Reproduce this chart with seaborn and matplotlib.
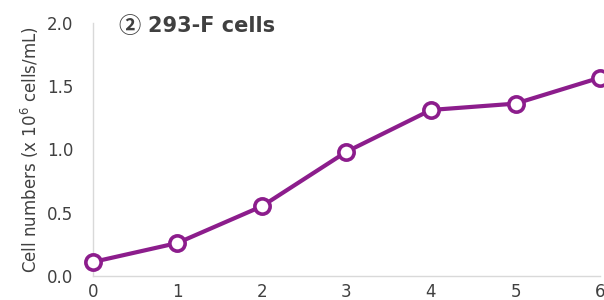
import pandas as pd
import seaborn as sns
import matplotlib.pyplot as plt
from matplotlib.ticker import MultipleLocator, FormatStrFormatter

days = [0, 1, 2, 3, 4, 5, 6]
cells = [0.11, 0.26, 0.55, 0.98, 1.31, 1.36, 1.565]

df = pd.DataFrame({"Day": days, "Cells": cells})

sns.set_style("white")
plt.rcParams['font.family'] = ['DejaVu Sans', 'Noto Sans CJK JP']

text_col = "#404040"
line_col = "#8C1D8C"

fig = plt.figure(figsize = (6.04, 3.0), dpi = 100)
ax = fig.add_axes([0.1535, 0.08, 0.84, 0.845])

sns.lineplot(x = "Day", y = "Cells", data = df, ax = ax, color = line_col, linewidth = 3,
             marker = "o", markersize = 11, markerfacecolor = "white",
             markeredgecolor = line_col, markeredgewidth = 2.6, clip_on = False, zorder = 5)

ax.set_xlim(0, 6)
ax.set_ylim(0, 2.0)
ax.yaxis.set_major_locator(MultipleLocator(0.5))
ax.yaxis.set_minor_locator(MultipleLocator(0.25))
ax.xaxis.set_major_locator(MultipleLocator(1))
ax.yaxis.set_major_formatter(FormatStrFormatter("%.1f"))

for s in ["top", "right"]:
    ax.spines[s].set_visible(False)
for s in ["left", "bottom"]:
    ax.spines[s].set_color("#d9d9d9")
    ax.spines[s].set_linewidth(1)

ax.tick_params(which = "both", direction = "in", length = 3, color = "#d9d9d9", width = 1,
               labelsize = 12, labelcolor = text_col)
ax.tick_params(axis = "x", pad = 5)
ax.tick_params(axis = "y", pad = 14)

ax.set_xlabel("")
ax.set_ylabel("Cell numbers (x 10$^6$ cells/mL)", fontsize = 12, color = text_col, labelpad = 4)

# title inside the axes: circled number in CJK font, rest in DejaVu bold
ax.text(0.05, 0.985, "②", transform = ax.transAxes, fontsize = 16, fontweight = "bold",
        family = ['Noto Sans CJK JP', 'DejaVu Sans'], color = text_col, va = "center", ha = "left")
ax.text(0.108, 0.985, "293-F cells", transform = ax.transAxes, fontsize = 15,
        fontweight = "bold", color = text_col, va = "center", ha = "left")

plt.savefig("out.png", dpi = 100)
